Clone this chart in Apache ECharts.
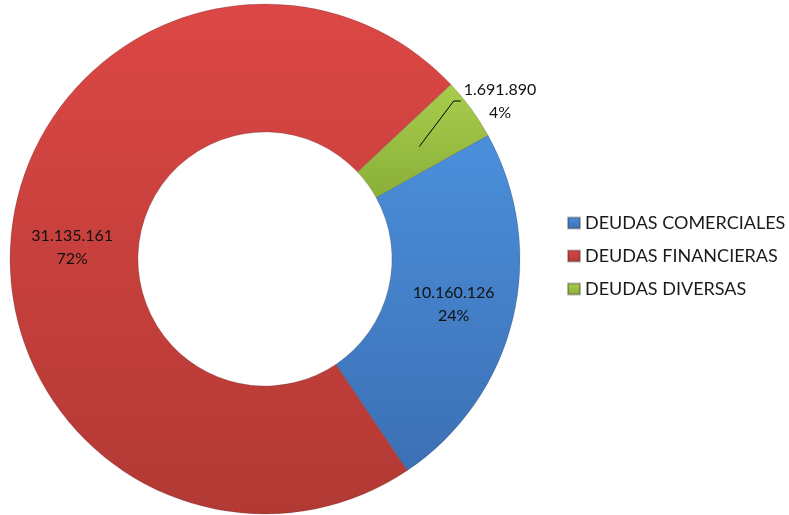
<!DOCTYPE html>
<html>
<head>
<meta charset="utf-8">
<script src="https://cdn.jsdelivr.net/npm/echarts@6/dist/echarts.min.js"></script>
<style>
  html, body { margin: 0; padding: 0; background: #fff; }
  #chart { width: 789px; height: 515px; }
</style>
</head>
<body>
<div id="chart"></div>
<script>
// datos
const categorias = ['DEUDAS COMERCIALES', 'DEUDAS FINANCIERAS', 'DEUDAS DIVERSAS']
const valores = [10160126, 31135161, 1691890]
const colores = [
  ['#4b8fdb', '#3c70b4'],
  ['#dc4745', '#b23934'],
  ['#a8cd4c', '#8aaf3a']
]

const centro = [265, 259]
// posicion de la etiqueta de DEUDAS DIVERSAS
const etiquetaVerde = [500, 101]
let anchoEtiqueta = 74

function fmtNum (v) {
  return String(v).replace(/\B(?=(\d{3})+(?!\d))/g, '.')
}

const chart = echarts.init(document.getElementById('chart'))

const datos = categorias.map(function (c, i) {
  const item = {
    name: c,
    value: valores[i],
    itemStyle: {
      color: new echarts.graphic.LinearGradient(0, 0, 0, 1, [
        { offset: 0, color: colores[i][0] },
        { offset: 1, color: colores[i][1] }
      ])
    }
  }
  if (i === 2) {
    item.label = { position: 'outside' }
  }
  return item
})

const option = {
  animation: false,
  textStyle: { fontFamily: 'Lato' },
  legend: {
    orient: 'vertical',
    left: 562,
    top: 209,
    itemGap: 15,
    icon: 'rect',
    itemWidth: 12,
    itemHeight: 11,
    textStyle: { fontSize: 18, color: '#1a1a1a', fontFamily: 'Lato' },
    data: categorias
  },
  series: [{
    type: 'pie',
    center: centro,
    radius: [127, 255],
    startAngle: 29,
    clockwise: true,
    avoidLabelOverlap: false,
    itemStyle: {
      borderColor: 'rgba(60,40,40,0.35)',
      borderWidth: 0.6
    },
    label: {
      show: true,
      position: 'inside',
      color: '#111',
      fontSize: 16,
      lineHeight: 23,
      fontFamily: 'Lato',
      formatter: function (p) {
        return fmtNum(p.value) + '\n' + Math.round(p.percent) + '%'
      }
    },
    labelLine: { show: false },
    labelLayout: function (p) {
      if (p.dataIndex === 1) return { dy: 5 }
      if (p.dataIndex !== 2) return {}
      anchoEtiqueta = p.labelRect.width
      return {
        x: etiquetaVerde[0],
        y: etiquetaVerde[1],
        align: 'center',
        verticalAlign: 'middle'
      }
    },
    data: datos
  }]
}

chart.setOption(option)

// linea guia: desde el centro del sector verde hasta la etiqueta
const lay = chart.getModel().getSeriesByIndex(0).getData().getItemLayout(2)
const ang = (lay.startAngle + lay.endAngle) / 2
const rm = (lay.r + lay.r0) / 2
const inicio = [lay.cx + rm * Math.cos(ang), lay.cy + rm * Math.sin(ang)]
const fin = etiquetaVerde[0] - anchoEtiqueta / 2 - 3
chart.setOption({
  graphic: [{
    type: 'polyline',
    z: 100,
    shape: { points: [inicio, [fin - 7, etiquetaVerde[1]], [fin, etiquetaVerde[1]]] },
    style: { stroke: '#000', lineWidth: 1, fill: null }
  }]
})
</script>
</body>
</html>
